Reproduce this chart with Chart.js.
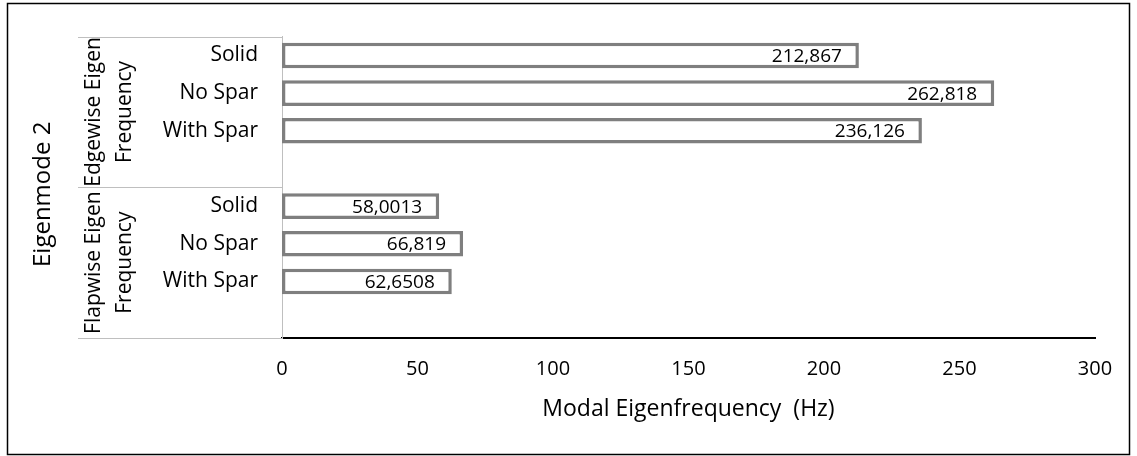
<!DOCTYPE html>
<html>
<head>
<meta charset="utf-8">
<script src="https://cdn.jsdelivr.net/npm/chart.js@4.4.1/dist/chart.umd.min.js"></script>
<style>
  html, body { margin: 0; padding: 0; background: #fff; }
  canvas { display: block; }
</style>
</head>
<body>
<canvas id="chart" width="1137" height="456"></canvas>
<script>
// ---- data ----
const modeTitle = 'Eigenmode 2';
const groupNames = [['Edgewise Eigen', 'Frequency'], ['Flapwise Eigen', 'Frequency']];
const variants = ['Solid', 'No Spar', 'With Spar'];
const edgewiseHz = [212.867, 262.818, 236.126];
const flapwiseHz = [58.0013, 66.819, 62.6508];
const xTickValues = [0, 50, 100, 150, 200, 250, 300];
const xTitle = 'Modal Eigenfrequency  (Hz)';

// each group lists its variants, followed by one empty row
const rowLabels = [];
const rowValues = [];
[edgewiseHz, flapwiseHz].forEach(series => {
  variants.forEach((v, i) => { rowLabels.push(v); rowValues.push(series[i]); });
  rowLabels.push('');
  rowValues.push(null);
});
const rowsPerGroup = variants.length + 1;

const FONT = "'Open Sans', 'Noto Sans', sans-serif";
const TEXT = '#000000';
const LINE = '#bfbfbf';

// decimal comma, as in the source figures
const fmt = v => String(v).replace('.', ',');

// outer frame of the figure
const framePlugin = {
  id: 'frame',
  beforeDraw(chart) {
    const ctx = chart.ctx;
    ctx.save();
    ctx.fillStyle = '#fff';
    ctx.fillRect(0, 0, chart.width, chart.height);
    ctx.strokeStyle = '#000';
    ctx.lineWidth = 1.5;
    ctx.strokeRect(7.5, 3.5, 1122, 451);
    ctx.restore();
  }
};

// values written inside the end of each bar
const barLabelPlugin = {
  id: 'barLabels',
  afterDatasetsDraw(chart) {
    const ctx = chart.ctx;
    const meta = chart.getDatasetMeta(0);
    ctx.save();
    ctx.font = `19px ${FONT}`;
    ctx.fillStyle = TEXT;
    ctx.textAlign = 'right';
    ctx.textBaseline = 'middle';
    meta.data.forEach((bar, i) => {
      const v = rowValues[i];
      if (v == null) return;
      ctx.fillText(fmt(v), bar.x - 17, bar.y + 1);
    });
    ctx.restore();
  }
};

// grouped category axis: divider lines, group names and the mode title
const groupAxisPlugin = {
  id: 'groupAxis',
  afterDraw(chart) {
    const ctx = chart.ctx;
    const ys = chart.scales.y;
    const slot = ys.getPixelForValue(1) - ys.getPixelForValue(0);
    const top = ys.getPixelForValue(0) - slot / 2;
    const axisX = chart.chartArea.left;
    ctx.save();
    ctx.strokeStyle = LINE;
    ctx.lineWidth = 1;
    for (let g = 0; g <= groupNames.length; g++) {
      const y = Math.round(top + g * rowsPerGroup * slot) + 0.5;
      ctx.beginPath();
      ctx.moveTo(78, y);
      ctx.lineTo(axisX, y);
      ctx.stroke();
    }
    ctx.fillStyle = TEXT;
    ctx.textAlign = 'center';
    ctx.textBaseline = 'middle';
    ctx.font = `21px ${FONT}`;
    groupNames.forEach((lines, g) => {
      const cy = top + (g + 0.5) * rowsPerGroup * slot;
      const xs = [94, 125];
      lines.forEach((txt, k) => {
        ctx.save();
        ctx.translate(xs[k], cy);
        ctx.rotate(-Math.PI / 2);
        ctx.fillText(txt, 0, 0);
        ctx.restore();
      });
    });
    ctx.font = `24px ${FONT}`;
    ctx.save();
    ctx.translate(43, (chart.chartArea.top + chart.chartArea.bottom) / 2 + 7);
    ctx.rotate(-Math.PI / 2);
    ctx.fillText(modeTitle, 0, 0);
    ctx.restore();
    ctx.restore();
  }
};

new Chart(document.getElementById('chart'), {
  type: 'bar',
  data: {
    labels: rowLabels,
    datasets: [{
      data: rowValues,
      backgroundColor: '#ffffff',
      borderColor: '#7f7f7f',
      borderWidth: 3.5,
      borderSkipped: false,
      categoryPercentage: 1,
      barPercentage: 0.68
    }]
  },
  options: {
    indexAxis: 'y',
    responsive: false,
    animation: false,
    layout: { padding: { top: 32, right: 42, left: 0, bottom: 0 } },
    plugins: { legend: { display: false }, tooltip: { enabled: false } },
    scales: {
      x: {
        min: xTickValues[0],
        max: xTickValues[xTickValues.length - 1],
        afterBuildTicks(scale) { scale.ticks = xTickValues.map(v => ({ value: v })); },
        afterFit(scale) { scale.height = 456 - 338; },
        grid: { display: false, drawTicks: false },
        border: { display: true, color: '#000', width: 2 },
        ticks: { padding: 19, color: TEXT, font: { family: FONT, size: 20 } },
        title: {
          display: true,
          text: xTitle,
          color: TEXT,
          font: { family: FONT, size: 23 },
          padding: { top: 0, bottom: 33 }
        }
      },
      y: {
        afterFit(scale) { scale.width = 282; },
        grid: { display: false, drawTicks: false },
        border: { display: true, color: LINE, width: 1 },
        ticks: { padding: 24, color: TEXT, font: { family: FONT, size: 21 }, autoSkip: false }
      }
    }
  },
  plugins: [framePlugin, barLabelPlugin, groupAxisPlugin]
});
</script>
</body>
</html>
